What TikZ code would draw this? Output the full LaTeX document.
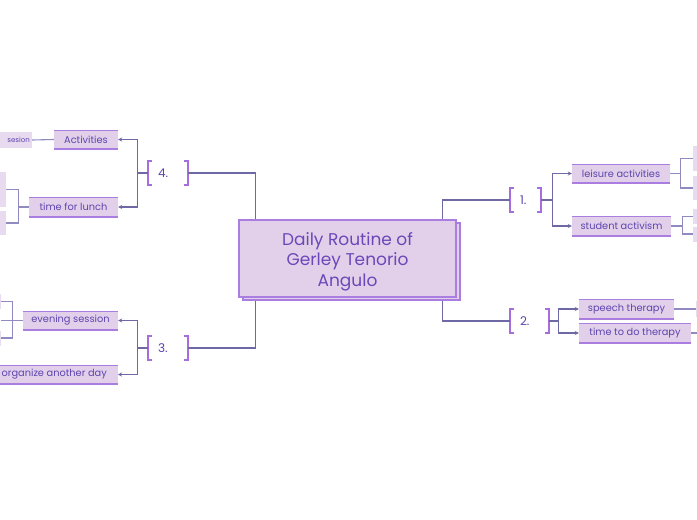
\documentclass[tikz,border=0pt]{standalone}
\usepackage{fontspec}
\setmainfont{Poppins}
\usetikzlibrary{arrows.meta,calc}
\definecolor{boxfill}{HTML}{E2D0EA}
\definecolor{boxfillb}{HTML}{E8DAEF}
\definecolor{border}{HTML}{AA7DE1}
\definecolor{brkcol}{HTML}{A56EDC}
\definecolor{txt}{HTML}{5E44AE}
\definecolor{ttl}{HTML}{6A48B8}
\definecolor{linea}{HTML}{6E69A5}
\definecolor{lineb}{HTML}{8F8BC0}
\newcommand\mybrk[1]{%
  \draw[brkline] ([xshift=4pt]#1.north west) -- (#1.north west) -- (#1.south west) -- ([xshift=4pt]#1.south west);
  \draw[brkline] ([xshift=-4pt]#1.north east) -- (#1.north east) -- (#1.south east) -- ([xshift=-4pt]#1.south east);}
\begin{document}
\begin{tikzpicture}[x=1pt,y=-1pt,
 conn/.style={draw=linea, line width=1.2pt},
 arr/.style={conn, -{Stealth[length=4pt,width=4pt]}},
 conn2/.style={draw=lineb, line width=1.1pt},
 topic/.style={fill=boxfill, text=txt, font=\fontsize{9.8}{11}\selectfont, inner sep=0pt,
   path picture={\draw[border, line width=2.4pt] (path picture bounding box.north west) -- (path picture bounding box.north east) (path picture bounding box.south west) -- (path picture bounding box.south east);}},
 leaf/.style={fill=boxfillb, minimum width=40pt, inner sep=0pt},
 brk/.style={text width=#1, align=left, inner xsep=10pt, inner ysep=0pt, minimum height=24pt, text=txt, font=\fontsize{12}{14}\selectfont},
 brkline/.style={draw=brkcol, line width=1.6pt},
 mainbox/.style={fill=boxfill, draw=border, line width=1.3pt, minimum width=217pt, minimum height=77pt, inner sep=0pt},
]
\useasboundingbox (0,0) rectangle (697,520);
\clip (0,0) rectangle (697,520);
\fill[white] (0,0) rectangle (697,520);

% central topic
\node[mainbox] (shadow) at (351.5,261.5) {};
\node[mainbox, label={[name=title, text=ttl, align=center, font=\fontsize{17}{20.5}\selectfont, yshift=-3pt]center:Daily Routine of\\Gerley Tenorio\\Angulo}] (main) at (347.5,258.5) {};

% brackets
\node[brk=20pt] (b4) at (168,173) {4.};
\node[brk=20pt] (b3) at (168,348) {3.};
\node[brk=11pt] (b1) at (525.5,200) {1.};
\node[brk=19pt] (b2) at (529.5,321) {2.};
\mybrk{b4}\mybrk{b3}\mybrk{b1}\mybrk{b2}

% topics
\node[topic, minimum width=64pt, minimum height=19pt] (act) at (86,139.5) {Activities};
\node[topic, minimum width=89pt, minimum height=20pt] (lunch) at (73.5,207) {time for lunch};
\node[topic, minimum width=95pt, minimum height=19pt] (eve) at (70.5,320.5) {evening session};
\node[topic, inner xsep=11pt, minimum height=19pt, anchor=east] (org) at (118,374.5) {organize another day};
\node[topic, minimum width=98pt, minimum height=19pt] (leis) at (621,173.5) {leisure activities};
\node[topic, minimum width=99pt, minimum height=20pt] (stud) at (621.5,226) {student activism};
\node[topic, minimum width=95pt, minimum height=20pt] (sp) at (626.5,309) {speech therapy};
\node[topic, minimum width=112pt, minimum height=20pt] (tt) at (635,333) {time to do therapy};

% leaves (mostly outside the frame)
\fill[boxfillb] (-10,132) rectangle (32,148);
\node[text=txt, font=\fontsize{7}{9}\selectfont, inner xsep=0pt, inner ysep=4pt, minimum height=16pt, anchor=east] (l1) at (30,140) {sesion};
\node[leaf, minimum height=35pt, anchor=east] (l2) at (6,189.5) {};
\node[leaf, minimum height=24pt, anchor=east] (l3) at (6,223) {};
\node[leaf, minimum height=15pt, anchor=east] (l4) at (1,301.5) {};
\node[leaf, minimum height=15pt, anchor=east] (l5) at (0.5,320.5) {};
\node[leaf, minimum height=15pt, anchor=east] (l6) at (1,338) {};
\node[leaf, minimum height=25pt, anchor=west] (r1) at (693,158.5) {};
\node[leaf, minimum height=24pt, anchor=west] (r2) at (693,188) {};
\node[leaf, minimum height=15pt, anchor=west] (r3) at (693,216.5) {};
\node[leaf, minimum height=15pt, anchor=west] (r4) at (693,234) {};
\node[leaf, minimum height=16pt, anchor=west] (r5) at (696,309) {};
\node[leaf, minimum height=16pt, anchor=west] (r6) at (698,333) {};

% main connectors
\draw[conn] (b4.east) -| ([xshift=17pt]main.north west);
\draw[conn] (b1.west) -| ([xshift=-14pt]main.north east);
\draw[conn] (b3.east) -| ([xshift=13pt]shadow.south west);
\draw[conn] (b2.west) -| ([xshift=-18pt]shadow.south east);

% bracket to topics
\draw[conn] (b4.west) -- ++(-10,0) coordinate (j4);
\draw[arr] (j4) |- (act.east);
\draw[arr] (j4) |- (lunch.east);
\draw[conn] (b3.west) -- ++(-10,0) coordinate (j3);
\draw[arr] (j3) |- (eve.east);
\draw[arr] (j3) |- (org.east);
\draw[conn] (b1.east) -- ++(11,0) coordinate (j1);
\draw[arr] (j1) |- (leis.west);
\draw[arr] (j1) |- (stud.west);
\draw[conn] (b2.east) -- ++(9,0) coordinate (j2);
\draw[arr] (j2) |- (sp.west);
\draw[arr] (j2) |- (tt.west);

% topics to leaves
\draw[conn2] (act.west) -- ([xshift=2pt]l1.east);
\draw[conn2] (lunch.west) -- ++(-10,0) coordinate (k4);
\draw[conn2] (k4) |- (l2.east);
\draw[conn2] (k4) |- (l3.east);
\draw[conn2] (eve.west) -- (l5.east);
\draw[conn2] (eve.west) ++(-10,0) coordinate (k5);
\draw[conn2] (k5) |- (l4.east);
\draw[conn2] (k5) |- (l6.east);
\draw[conn2] (leis.east) -- ++(10,0) coordinate (k1);
\draw[conn2] (k1) |- (r1.west);
\draw[conn2] (k1) |- (r2.west);
\draw[conn2] (stud.east) -- ++(11,0) coordinate (k2);
\draw[conn2] (k2) |- (r3.west);
\draw[conn2] (k2) |- (r4.west);
\draw[conn2] (sp.east) -- (r5.west);
\draw[conn2] (tt.east) -- (r6.west);
\end{tikzpicture}
\end{document}
